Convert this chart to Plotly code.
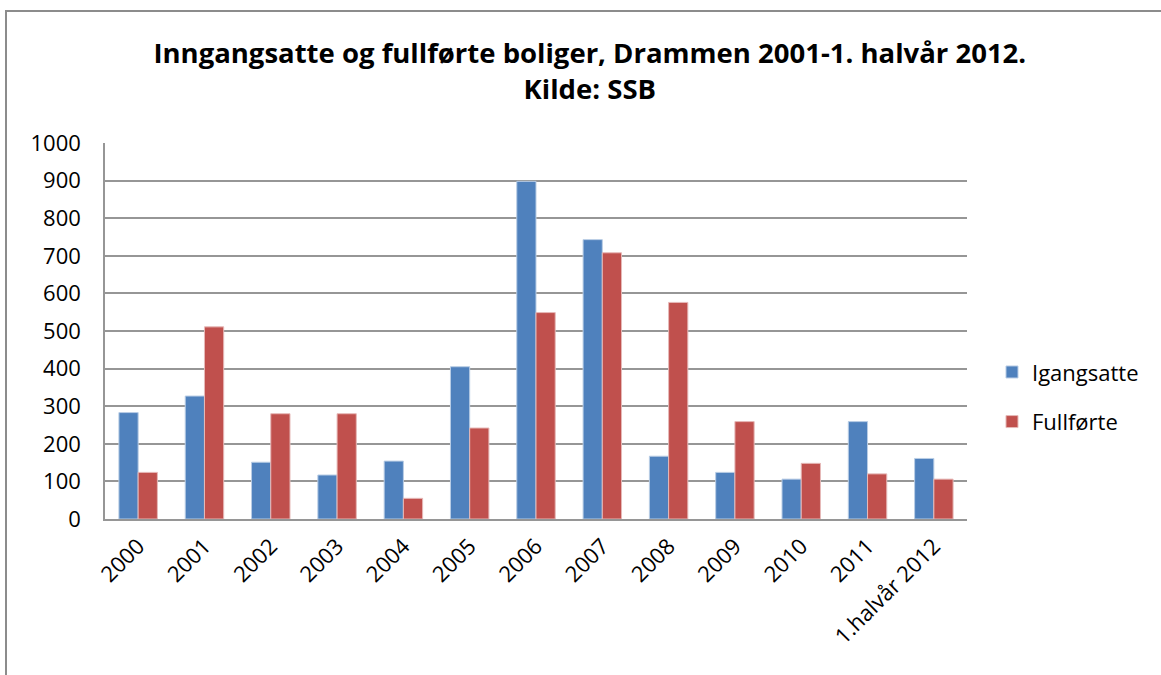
import plotly.graph_objects as go

categories = ["2000", "2001", "2002", "2003", "2004", "2005", "2006", "2007",
              "2008", "2009", "2010", "2011", "1.halvår 2012"]
igangsatte = [283, 327, 151, 117, 154, 405, 898, 743, 167, 124, 106, 259, 161]
fullforte = [124, 511, 280, 280, 55, 242, 549, 708, 576, 259, 148, 120, 106]
y_ticks = [0, 100, 200, 300, 400, 500, 600, 700, 800, 900, 1000]

FONT = "Open Sans, Lato, sans-serif"

fig = go.Figure()
fig.add_trace(go.Bar(name="Igangsatte", x=categories, y=igangsatte,
                     marker=dict(color="#4F81BD", line=dict(color="#B9CDE5", width=1)),
                     legendgroup="a"))
fig.add_trace(go.Bar(name="Fullførte", x=categories, y=fullforte,
                     marker=dict(color="#C0504D", line=dict(color="#E6B9B8", width=1)),
                     legendgroup="b"))

fig.update_layout(
    width=1161, height=675,
    margin=dict(l=105, r=194, t=143, b=156),
    paper_bgcolor="white", plot_bgcolor="white",
    barmode="group", bargap=0.42, bargroupgap=0,
    title=dict(text="<b>Inngangsatte og fullførte boliger, Drammen 2001-1. halvår 2012.<br>Kilde: SSB</b>",
               x=0.508, xanchor="center", y=0.907, yanchor="middle",
               font=dict(family=FONT, size=27.5, color="black")),
    font=dict(family=FONT, size=22, color="black"),
    xaxis=dict(tickangle=-45, showline=True, linecolor="#969696", linewidth=1.5,
               ticks="", tickfont=dict(size=22), ticklabelstandoff=4),
    yaxis=dict(range=[0, 1000], tickvals=y_ticks, showgrid=True, gridcolor="#969696",
               gridwidth=1.5, showline=True, linecolor="#969696", linewidth=1.5,
               ticks="", ticklen=0, zeroline=False, tickfont=dict(size=22),
               ticklabelstandoff=18),
    legend=dict(x=1.029, xanchor="left", y=0.324, yanchor="middle",
                font=dict(size=22), tracegroupgap=18, traceorder="grouped",
                itemwidth=30),
    showlegend=True,
)

fig.add_shape(type="rect", xref="paper", yref="paper",
              x0=-99/862, x1=1.3, y0=-0.5, y1=(519-11)/376,
              line=dict(color="#8C8C8C", width=2), fillcolor="rgba(0,0,0,0)", layer="below")

fig.write_html("out.html", post_script="document.body.style.margin='0';",
               config={"displayModeBar": False})
